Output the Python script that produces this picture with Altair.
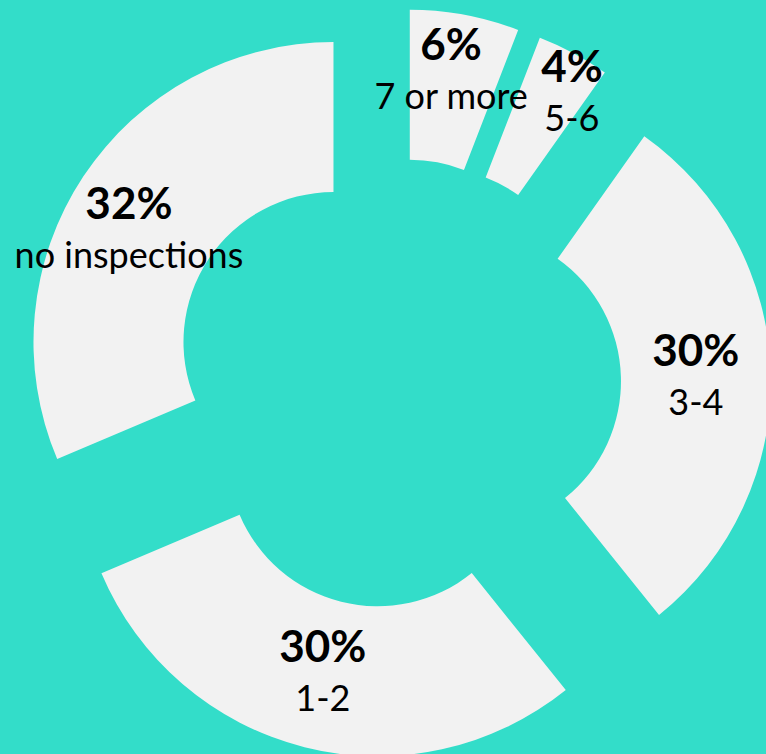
import altair as alt
import pandas as pd

# ---- data ----
categories = ["7 or more", "5-6", "3-4", "1-2", "no inspections"]
percent = [6, 4, 30, 30, 32]
order = [0, 1, 2, 3, 4]

df = pd.DataFrame({"category": categories, "percent": percent, "order": order})

# ---- layout / style ----
W, H = 766, 754
CX, CY = 396, 383.5
R_OUT, R_IN = 300, 150
EXPLODE = 75
LABEL_R = 225
BG = "#33DDC9"
SLICE = "#F2F2F2"
FONT = "Lato"

# manual label nudges (pixels), as placed in the reference
LABEL_NUDGE = {
    "7 or more": (0, -17),
    "5-6": (34, -25),
    "3-4": (0, 4),
    "1-2": (0, 0),
    "no inspections": (-17, 13),
}
nudge_df = pd.DataFrame(
    {
        "category": list(LABEL_NUDGE.keys()),
        "ndx": [v[0] for v in LABEL_NUDGE.values()],
        "ndy": [v[1] for v in LABEL_NUDGE.values()],
    }
)
df = df.merge(nudge_df, on="category", how="left")

base = (
    alt.Chart(df)
    .transform_joinaggregate(total="sum(percent)")
    .transform_window(cum="sum(percent)", sort=[alt.SortField("order")], frame=[None, 0])
    .transform_calculate(
        t0="2*PI*(datum.cum - datum.percent)/datum.total",
        t1="2*PI*datum.cum/datum.total",
    )
    .transform_calculate(tm="(datum.t0 + datum.t1)/2")
    .transform_calculate(
        px=f"{CX} + {EXPLODE}*sin(datum.tm)",
        py=f"{CY} - {EXPLODE}*cos(datum.tm)",
        lx=f"{CX} + ({EXPLODE}+{LABEL_R})*sin(datum.tm) + datum.ndx",
        ly=f"{CY} - ({EXPLODE}+{LABEL_R})*cos(datum.tm) + datum.ndy",
        pct="datum.percent + '%'",
    )
)

arcs = base.mark_arc(
    innerRadius=R_IN, outerRadius=R_OUT, color=SLICE, stroke=None
).encode(
    theta=alt.Theta("t0:Q", scale=None, stack=None),
    theta2="t1:Q",
    x=alt.X("px:Q", scale=None, axis=None),
    y=alt.Y("py:Q", scale=None, axis=None),
)

pct_text = base.mark_text(
    font=FONT, fontSize=44, fontWeight="bold", color="black", baseline="middle", dy=-25
).encode(
    x=alt.X("lx:Q", scale=None, axis=None),
    y=alt.Y("ly:Q", scale=None, axis=None),
    text="pct:N",
)

cat_text = base.mark_text(
    font=FONT, fontSize=36, color="black", baseline="middle", dy=26
).encode(
    x=alt.X("lx:Q", scale=None, axis=None),
    y=alt.Y("ly:Q", scale=None, axis=None),
    text="category:N",
)

chart = (
    alt.layer(arcs, pct_text, cat_text)
    .properties(width=W, height=H, background=BG, padding=0, autosize=alt.AutoSizeParams(type="none"))
    .configure_view(stroke=None)
)

chart.save("out.html", embed_options={"renderer": "svg", "actions": False})
